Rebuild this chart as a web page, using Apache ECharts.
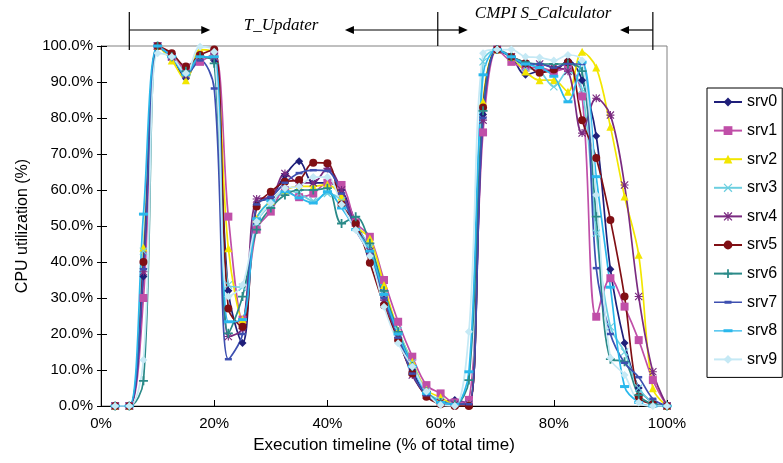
<!DOCTYPE html>
<html><head><meta charset="utf-8">
<script src="https://cdn.jsdelivr.net/npm/echarts@6/dist/echarts.min.js"></script>
<style>html,body{margin:0;padding:0;background:#fff}#c{width:783px;height:463px}</style>
</head><body><div id="c"></div>
<script>
const xValues = [2.5,5,7.5,10,12.5,15,17.5,20,22.5,25,27.5,30,32.5,35,37.5,40,42.5,45,47.5,50,52.5,55,57.5,60,62.5,65,67.5,70,72.5,75,77.5,80,82.5,85,87.5,90,92.5,95,97.5,100];
const xTicks = ['0%','20%','40%','60%','80%','100%'];
const seriesNames = ['srv0','srv1','srv2','srv3','srv4','srv5','srv6','srv7','srv8','srv9'];
const srv0 = [0,0,36,100,97,91,97,96,32,17.5,56,58,64,68,62,62,60,51,43,31,20,10,3,1,1.7,0.5,81,99,97,92,93,93,96,90.5,75,38,17.5,5,1,0];
const srv1 = [0,0,30,100,97,94,95.6,98,52.6,24,49,54,60,58,59,62,61.4,51,47,35,23.4,13.7,5.8,3.5,1,1.7,76,99,95.6,94,94,93,94,86,24.8,35.5,27.6,18.3,7.2,0];
const srv2 = [0,0,44,100,96,90.5,99,98,43.8,24,52,57,60,61,61,61.5,58.2,50,46.5,33.6,21,12.3,4.5,2.4,0.5,0.5,84.5,99,97,92.9,90.5,90.5,87.3,98.4,94,77.6,58.2,42,4.9,0];
const srv3 = [0,0,43,100,97,92,97,97,33.6,33,51,56,60,59,57,59,57,50,44,31,21,12,4,1.5,0.5,0.5,95.6,99,97,94,93,88.7,93,88,48,22,15,5,1,0];
const srv4 = [0,0,37.3,100,97,92,97,97,19.3,21.5,57.5,58,64.6,62,62,66,60,50,43,29.4,19,8.6,3,1,0.5,0.5,79.4,99,97,95,95,94,93,75.8,85.5,80.8,61.4,30.4,9.5,0];
const srv5 = [0,0,40,100,98,94.3,97.5,99,27.1,22,55.4,59.5,62.3,62.8,67.6,67.4,56,50.7,39.8,28,18.3,9,2.6,0.5,0,0,82.9,99,97,95.2,92.6,93.5,95.5,79.4,68.9,51.7,30.4,2.6,0.5,0];
const srv6 = [0,0,7,100,97,93,97,95.2,20.2,30.4,49,55,58.6,60,60,60.5,50.7,52.6,45.2,32,20.6,11,4,1,0.5,7.2,82,99,97,95.5,95,95,95,93,52.6,13,12.3,3,0.5,0];
const srv7 = [0,0,38,100,97,92,96,88.2,13,20,56,58,62,64.7,65.5,65.3,59,49,42,30,19,9,3,1,0.5,0.5,80,99,97,95,95,94,95,95,38.3,20,12,8,2,0];
const srv8 = [0,0,53.3,100,97,92,97,97,23.4,24,52,57,59.5,57.8,56.4,59.5,55,49,43,31,20,11,3.5,1,0.5,9.5,92,99,97,95,94,91.6,84.5,95.5,63.7,33,5.4,1,0,0];
const srv9 = [0,0,12.8,98,97,92.4,99.8,98.4,30.4,33.6,51.2,56.4,60.5,61,63.6,63.6,56,48.9,41.7,27.6,17.4,10.9,4,0.3,0,20.6,98,99,99,97,96.8,96,97.5,96,58.6,13.3,8.6,1,0,0];
const allValues = [srv0,srv1,srv2,srv3,srv4,srv5,srv6,srv7,srv8,srv9];

const colors = ['#1f1f7a','#c04fa8','#f2e600','#6ccfe0','#7a2a80','#800f14','#2a8a88','#3d4fb0','#2ab8ec','#c5e9f5'];
const PLUS = 'path://M4,0H6V4H10V6H6V10H4V6H0V4H4Z';
const XS = 'path://M0,1L1,0L5,4L9,0L10,1L6,5L10,9L9,10L5,6L1,10L0,9L4,5Z';
const STAR = 'path://M4.3,0H5.7V4.3H10V5.7H5.7V10H4.3V5.7H0V4.3H4.3Z M0,1L1,0L5,4L9,0L10,1L6,5L10,9L9,10L5,6L1,10L0,9L4,5Z';
const DASH_S = 'path://M0,0H7V2.5H0Z';
const DASH_L = 'path://M0,0H9V3H0Z';
const symbols = ['diamond','rect','triangle',XS,STAR,'circle',PLUS,DASH_S,DASH_L,'diamond'];
const symSizes = [8,8,8,8,8,8,9,7,9,8];
const legendIcons = {srv7:'path://M0,0.8H28V2.2H0Z M10.5,0H17.5V3H10.5Z', srv8:'path://M0,0.9H28V2.1H0Z M9.5,0H18.5V3H9.5Z'};

const chart = echarts.init(document.getElementById('c'), null, {renderer:'canvas'});
const FONT = 'Liberation Sans';
const series = seriesNames.map((n,i)=>({
  name:n, type:'line', smooth:0.35, yAxisIndex:0,
  data: xValues.map((x,j)=>[x, allValues[i][j]]),
  symbol: symbols[i], symbolSize: symSizes[i], symbolKeepAspect:true, showAllSymbol:true,
  lineStyle:{color:colors[i], width:1.7},
  itemStyle:{color:colors[i]},
  emphasis:{disabled:true}, animation:false
}));
chart.setOption({
  animation:false,
  grid:{left:101, right:116, top:46, bottom:57, show:true, borderColor:'#808080', borderWidth:1, backgroundColor:'transparent'},
  legend:{
    orient:'vertical', left:707, top:88, itemWidth:28, itemHeight:11, itemGap:12.6,
    padding:[6,5,10,6], borderColor:'#000', borderWidth:1, symbolKeepAspect:true,
    textStyle:{fontFamily:FONT, fontSize:16, color:'#000'},
    data: seriesNames.map(n=> legendIcons[n] ? {name:n, icon:legendIcons[n]} : {name:n})
  },
  xAxis:{
    type:'value', min:0, max:100, interval:20,
    name:'Execution timeline (% of total time)', nameLocation:'middle', nameGap:31,
    nameTextStyle:{fontFamily:FONT, fontSize:17, color:'#000'},
    axisLine:{lineStyle:{color:'#000', width:1}},
    axisTick:{inside:true, length:6, lineStyle:{color:'#000'}},
    axisLabel:{fontFamily:FONT, fontSize:15, color:'#000', margin:10, formatter:(v)=>xTicks[Math.round(v/20)]},
    splitLine:{show:false}
  },
  yAxis:[{
    type:'value', min:0, max:100, interval:10,
    name:'CPU utilization (%)', nameLocation:'middle', nameGap:70,
    nameTextStyle:{fontFamily:FONT, fontSize:16, color:'#000'},
    axisLine:{show:true, lineStyle:{color:'#000', width:1}},
    axisTick:{show:true, inside:true, length:6, lineStyle:{color:'#000'}},
    axisLabel:{fontFamily:FONT, fontSize:15, color:'#000', margin:8, formatter:(v)=>v.toFixed(1)+'%'},
    splitLine:{show:false}
  },{
    type:'value', min:0, max:100, interval:10, position:'left',
    axisLine:{show:false}, axisTick:{show:true, inside:false, length:4, lineStyle:{color:'#000'}},
    axisLabel:{show:false}, splitLine:{show:false}
  }],
  series: series
});

// annotation phases (positions in % of total time)
const phaseBounds = [5, 59.5, 97.5];
const arrowTips = [19.3, 43.1, 64.8, 91.7];
const labelPos = [31.8, 78.1];
const px = (v)=>chart.convertToPixel({xAxisIndex:0}, v);
const g = [];
const stroke = {stroke:'#000', lineWidth:1.2};
[[phaseBounds[0],50],[phaseBounds[1],46],[phaseBounds[2],50]].forEach(([v,b])=>{
  const x = px(v);
  g.push({type:'line', shape:{x1:x,y1:12,x2:x,y2:b}, style:stroke, silent:true});
});
function arrow(fromV, toV, y){
  const x1 = px(fromV), x2 = px(toV);
  const d = x2 > x1 ? 1 : -1;
  g.push({type:'line', shape:{x1:x1,y1:y,x2:x2-d*6,y2:y}, style:stroke, silent:true});
  g.push({type:'polygon', shape:{points:[[x2,y],[x2-d*9,y-4],[x2-d*9,y+4]]}, style:{fill:'#000'}, silent:true});
}
arrow(phaseBounds[0], arrowTips[0], 30);
arrow(phaseBounds[1], arrowTips[1], 30);
arrow(phaseBounds[1], arrowTips[2], 30);
arrow(phaseBounds[2], arrowTips[3], 30);
g.push({type:'text', x:px(labelPos[0]), y:26, style:{text:'T_Updater', font:'italic 17px "Liberation Serif"', fill:'#000', align:'center', verticalAlign:'middle'}, silent:true});
g.push({type:'text', x:px(labelPos[1]), y:14, style:{text:'CMPI S_Calculator', font:'italic 17px "Liberation Serif"', fill:'#000', align:'center', verticalAlign:'middle'}, silent:true});
chart.setOption({graphic:g});
</script></body></html>
